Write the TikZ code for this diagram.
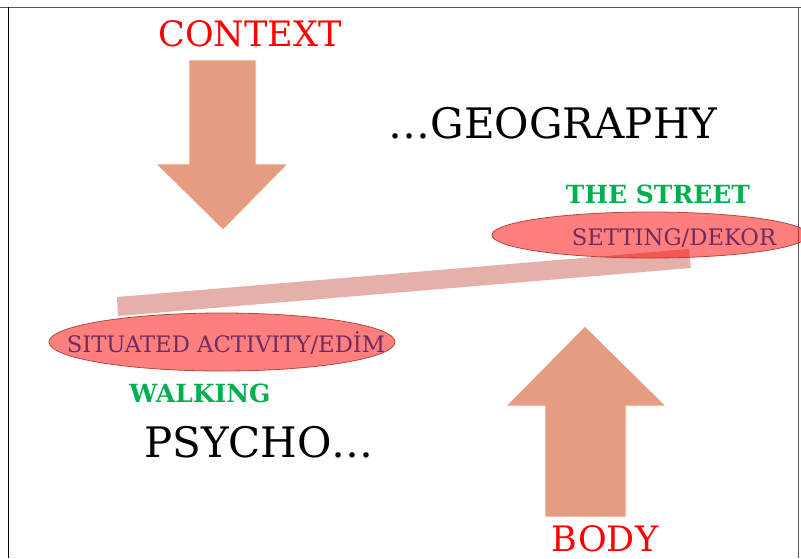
\documentclass[tikz,border=0pt]{standalone}
\usepackage{fontspec}
\usetikzlibrary{shapes.geometric}
\setmainfont{DejaVu Serif}
\begin{document}
\begin{tikzpicture}[x=1pt,y=-1pt,
  bigarrow/.style={fill=arrowc,draw=white,line width=0.8pt},
  redlabel/.style={text=red,anchor=base,inner sep=0pt,font=\fontsize{35}{40}\selectfont},
  blacklabel/.style={text=black,anchor=base,inner sep=0pt,font=\fontsize{42}{48}\selectfont},
  greenlabel/.style={text=greenc,anchor=base,inner sep=0pt,font=\bfseries\fontsize{25}{28}\selectfont},
  ovallabel/.style={text=purplec,anchor=base,inner sep=0pt,font=\fontsize{22.7}{26}\selectfont},
  oval/.style={ellipse,fill=red,fill opacity=0.5,draw=ovalborder,line width=0.8pt,inner sep=0pt}]
\definecolor{arrowc}{RGB}{229,156,128}
\definecolor{greenc}{RGB}{0,176,80}
\definecolor{purplec}{RGB}{112,44,96}
\definecolor{barc}{RGB}{230,176,170}
\definecolor{ovalborder}{RGB}{180,70,60}
\useasboundingbox (0,0) rectangle (801,558);
% frame
\draw[gray!70!black,line width=1pt] (0,7) -- (801,7);
\draw[black,line width=1pt] (8.5,7) -- (8.5,558);
\draw[gray!70!black,line width=1pt] (798,7) -- (798,558);
% down arrow
\path[bigarrow] (189,60) -- (256,60) -- (256,164) -- (288,164) -- (223,230) -- (156,164) -- (189,164) -- cycle;
% up arrow
\path[bigarrow] (545,517) -- (626,517) -- (626,406) -- (666,406) -- (585,326) -- (506,406) -- (545,406) -- cycle;
% bar
\path[fill=barc] (117,297) -- (689,249) -- (691,268) -- (118,316) -- cycle;
% ellipses
\node[oval,minimum width=316pt,minimum height=46pt] (set) at (650,235) {};
\node[oval,minimum width=346pt,minimum height=58pt] (sit) at (222,342) {};
% texts
\node[redlabel] (context) at (250,46) {CONTEXT};
\node[redlabel,text depth=0pt] (body) at (605,551) {BODY};
\node[blacklabel] (geo) at (553,138) {…GEOGRAPHY};
\node[blacklabel] (psy) at (259,457) {PSYCHO…};
\node[greenlabel] (street) at (658,203) {THE STREET};
\node[greenlabel] (walk) at (200,402) {WALKING};
\node[ovallabel] (settxt) at (674,245) {SETTING/DEKOR};
\node[ovallabel] (sittxt) at (226,352) {SITUATED ACTIVITY/EDİM};
\end{tikzpicture}
\end{document}
